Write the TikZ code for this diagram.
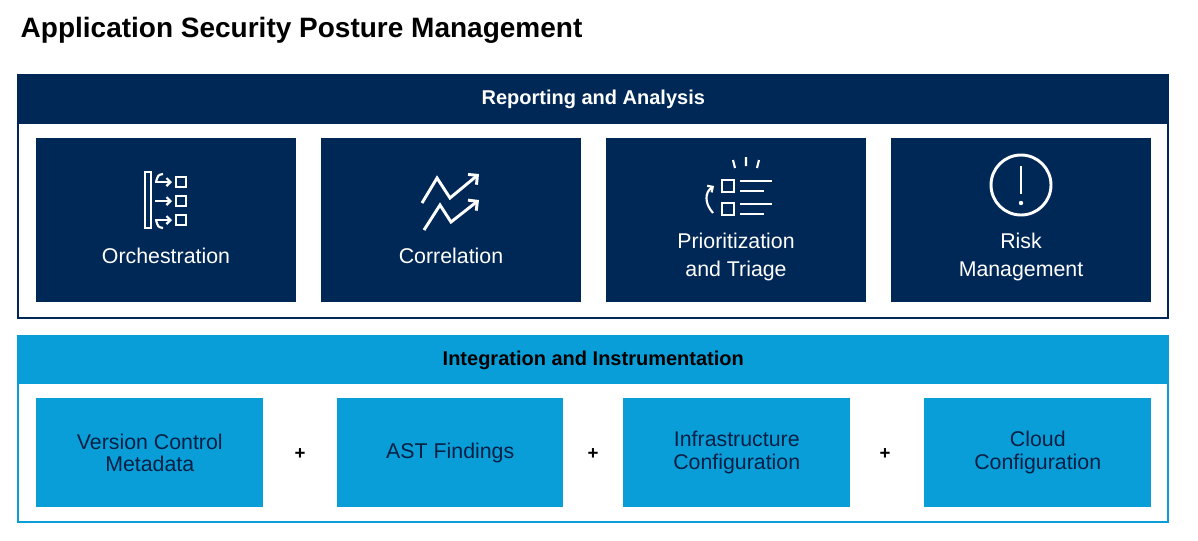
\documentclass[tikz,border=0pt]{standalone}
\usepackage{fontspec}
\setmainfont{Liberation Sans}
\usetikzlibrary{arrows.meta}
\definecolor{navy}{HTML}{002856}
\definecolor{sky}{HTML}{0A9ED8}
\begin{document}
\begin{tikzpicture}[x=0.75pt,y=-0.75pt,
  card/.style={fill=#1,draw=none,anchor=north west,inner sep=0pt,text=white,align=center,font=\fontsize{16}{17}\selectfont},
  lcard/.style={fill=sky,draw=none,anchor=north west,inner sep=0pt,text=navy!80!black,align=center,font=\fontsize{16}{17}\selectfont},
  hdr/.style={anchor=north west,inner sep=0pt,font=\bfseries\fontsize{15}{17}\selectfont},
  ic/.style={white,line width=2.2pt}]
\useasboundingbox (0,0) rectangle (1198,540);
\node[anchor=west,font=\bfseries\fontsize{21}{24}\selectfont] (title) at (16,30) {Application Security Posture Management};
% top section
\draw[navy,line width=1.5pt] (18,75) rectangle (1168,318);
\node[hdr,fill=navy,text=white,minimum width=1150*0.75pt,minimum height=49*0.75pt] (rh) at (18,75) {Reporting and Analysis};
\node[card=navy,minimum width=260*0.75pt,minimum height=164*0.75pt] (o) at (36,138) {};
\node[card=navy,minimum width=260*0.75pt,minimum height=164*0.75pt] (c) at (321,138) {};
\node[card=navy,minimum width=260*0.75pt,minimum height=164*0.75pt] (p) at (606,138) {};
\node[card=navy,minimum width=260*0.75pt,minimum height=164*0.75pt] (r) at (891,138) {};
\node[text=white,font=\fontsize{16}{21}\selectfont] (ot) at (166,256) {Orchestration};
\node[text=white,font=\fontsize{16}{21}\selectfont] (ct) at (451,256) {Correlation};
\node[text=white,align=center,font=\fontsize{16}{21}\selectfont] (pt) at (736,257) {Prioritization\\and Triage};
\node[text=white,align=center,font=\fontsize{16}{21}\selectfont] (rt) at (1021,257) {Risk\\Management};
% orchestration icon
\draw[ic,line width=1.6pt] (145,172) rectangle (151,228);
\foreach \y in {182,201,220}{
 \draw[ic,line width=1.6pt] (176,\y-5) rectangle (186,\y+5);
 \draw[ic,line width=1.6pt,-{Straight Barb[length=3pt]}] (155,\y) -- (172,\y);}
\draw[ic,line width=1.6pt] (156,182) .. controls (158,175) .. (163,174);
\draw[ic,line width=1.6pt] (156,220) .. controls (158,227) .. (163,228);
% correlation icon
\draw[ic,-{Straight Barb[length=5pt]}] (422,203) -- (437,178) -- (450,198) -- (479,174);
\draw[ic,-{Straight Barb[length=5pt]}] (424,230) -- (440,205) -- (451,222) -- (479,200);
% prioritization icon
\draw[ic,line width=1.6pt] (733,160) -- (735,168) (746,157) -- (746,166) (759,160) -- (757,168);
\draw[ic,line width=1.6pt] (722,180) rectangle (734,192) (722,203) rectangle (734,215);
\draw[ic] (740,181) -- (772,181) (740,191) -- (764,191) (740,204) -- (772,204) (740,214) -- (764,214);
\draw[ic,line width=1.6pt,-{Straight Barb[length=3pt]}] (713,213) .. controls (704,203) and (705,192) .. (714,186);
% risk icon
\draw[ic] (1021,185) circle (30);
\draw[ic] (1021,166) -- (1021,194);
\fill[white] (1021,203) circle (2.2);
% bottom section
\draw[sky,line width=1.5pt] (18,336) rectangle (1168,522);
\node[hdr,fill=sky,text=black,minimum width=1150*0.75pt,minimum height=48*0.75pt] (ih) at (18,336) {Integration and Instrumentation};
\node[lcard,minimum width=227*0.75pt,minimum height=109*0.75pt] (v) at (36,398) {Version Control\\Metadata};
\node[lcard,minimum width=226*0.75pt,minimum height=109*0.75pt] (a) at (337,398) {AST Findings};
\node[lcard,minimum width=227*0.75pt,minimum height=109*0.75pt] (i) at (623,398) {Infrastructure\\Configuration};
\node[lcard,minimum width=227*0.75pt,minimum height=109*0.75pt] (cl) at (924,398) {Cloud\\Configuration};
\node[font=\bfseries\fontsize{14}{16}\selectfont] (p1) at (300,454) {+};
\node[font=\bfseries\fontsize{14}{16}\selectfont] (p2) at (593,454) {+};
\node[font=\bfseries\fontsize{14}{16}\selectfont] (p3) at (885,454) {+};
\end{tikzpicture}
\end{document}
